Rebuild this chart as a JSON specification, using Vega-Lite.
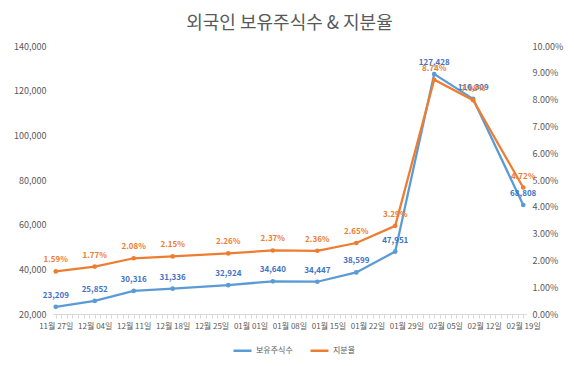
{
  "$schema": "https://vega.github.io/schema/vega-lite/v6.json",
  "width": 473,
  "height": 268,
  "autosize": {"type": "none"},
  "padding": {"left": 53, "top": 46, "right": 48, "bottom": 52},
  "background": "white",
  "title": {
    "text": "외국인 보유주식수 & 지분율",
    "fontSize": 18,
    "font": "Noto Sans CJK KR",
    "fontWeight": "normal",
    "color": "#595959",
    "anchor": "middle",
    "offset": 9
  },
  "config": {
    "font": "Noto Sans CJK KR",
    "view": {"stroke": null},
    "axis": {"labelColor": "#595959", "labelFontSize": 9, "grid": false, "labelFont": "Noto Sans CJK KR"}
  },
  "data": {
    "values": [
      {"date": "2023-11-27", "shares": 23209, "ratio": 0.0159},
      {"date": "2023-12-04", "shares": 25852, "ratio": 0.0177},
      {"date": "2023-12-11", "shares": 30316, "ratio": 0.0208},
      {"date": "2023-12-18", "shares": 31336, "ratio": 0.0215},
      {"date": "2023-12-28", "shares": 32924, "ratio": 0.0226},
      {"date": "2024-01-05", "shares": 34640, "ratio": 0.0237},
      {"date": "2024-01-13", "shares": 34447, "ratio": 0.0236},
      {"date": "2024-01-20", "shares": 38599, "ratio": 0.0265},
      {"date": "2024-01-27", "shares": 47951, "ratio": 0.0329},
      {"date": "2024-02-03", "shares": 127428, "ratio": 0.0874},
      {"date": "2024-02-10", "shares": 116309, "ratio": 0.0798},
      {"date": "2024-02-19", "shares": 68808, "ratio": 0.0472}
    ]
  },
  "encoding": {
    "x": {
      "field": "date",
      "type": "temporal",
      "title": null,
      "scale": {
        "type": "utc",
        "domain": [
          {"year": 2023, "month": 11, "date": 26, "hours": 12, "utc": true},
          {"year": 2024, "month": 2, "date": 19, "hours": 12, "utc": true}
        ]
      },
      "axis": {
        "tickCount": {"interval": "day", "step": 1},
        "labelExpr": "utcday(datum.value) === 1 ? utcFormat(datum.value, '%m월 %d일') : ''",
        "labelOverlap": false,
        "labelBound": false,
        "labelFlush": false,
        "labelAngle": 0,
        "labelFontSize": 8,
        "tickSize": 4,
        "tickColor": "#d9d9d9",
        "domainColor": "#d9d9d9",
        "labelPadding": 4
      }
    }
  },
  "layer": [
    {
      "encoding": {
        "y": {
          "field": "shares",
          "type": "quantitative",
          "title": null,
          "scale": {"domain": [20000, 140000], "nice": false},
          "axis": {
            "orient": "left",
            "values": [20000, 40000, 60000, 80000, 100000, 120000, 140000],
            "format": ",.0f",
            "domain": false,
            "ticks": false,
            "labelPadding": 7
          }
        },
        "color": {
          "datum": "보유주식수",
          "type": "nominal",
          "scale": {"domain": ["보유주식수", "지분율"], "range": ["#5B9BD5", "#ED7D31"]},
          "legend": {
            "orient": "none",
            "legendX": 179,
            "legendY": 294,
            "title": null,
            "direction": "horizontal",
            "symbolType": "stroke",
            "symbolStrokeWidth": 2.5,
            "symbolSize": 324,
            "labelFontSize": 8,
            "labelOffset": 3,
            "labelColor": "#595959",
            "columnPadding": 12
          }
        }
      },
      "layer": [
        {"mark": {"type": "line", "strokeWidth": 2.25, "point": {"filled": true, "size": 22}}},
        {
          "mark": {"type": "text", "dy": -11, "fontSize": 8, "fontWeight": "bold"},
          "encoding": {"text": {"field": "shares", "type": "quantitative", "format": ","}, "color": {"value": "#4472C4"}}
        }
      ]
    },
    {
      "encoding": {
        "y": {
          "field": "ratio",
          "type": "quantitative",
          "title": null,
          "scale": {"domain": [0, 0.1], "nice": false},
          "axis": {
            "orient": "right",
            "values": [0, 0.01, 0.02, 0.03, 0.04, 0.05, 0.06, 0.07, 0.08, 0.09, 0.1],
            "format": ".2%",
            "domain": false,
            "ticks": false,
            "labelPadding": 6
          }
        },
        "color": {"datum": "지분율", "type": "nominal"}
      },
      "layer": [
        {"mark": {"type": "line", "strokeWidth": 2.25, "point": {"filled": true, "size": 22}}},
        {
          "mark": {"type": "text", "dy": -11, "fontSize": 8, "fontWeight": "bold"},
          "encoding": {"text": {"field": "ratio", "type": "quantitative", "format": ".2%"}, "color": {"value": "#ED7D31"}}
        }
      ]
    }
  ],
  "resolve": {"scale": {"y": "independent"}}
}
